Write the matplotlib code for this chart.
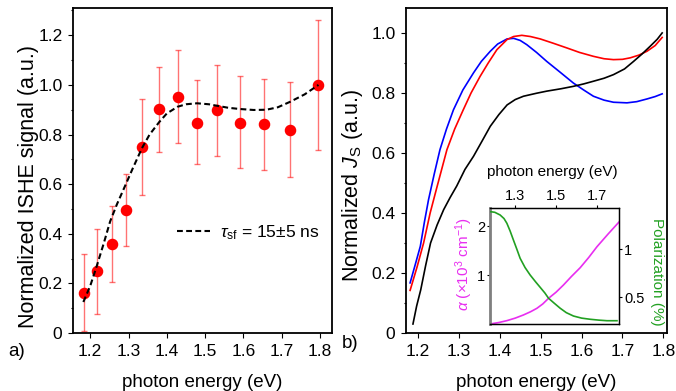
import matplotlib
matplotlib.use('Agg')
import matplotlib.pyplot as plt
from matplotlib.ticker import MultipleLocator

plt.rcParams['font.family'] = ['Liberation Sans', 'DejaVu Sans']
plt.rcParams['mathtext.fontset'] = 'custom'
plt.rcParams['mathtext.rm'] = 'Liberation Sans'
plt.rcParams['mathtext.it'] = 'Liberation Sans:italic'

# panel a: ISHE signal vs photon energy
ishe_e = [1.184, 1.217, 1.257, 1.293, 1.335, 1.379, 1.428, 1.479, 1.531, 1.590, 1.654, 1.722, 1.796]
ishe_v = [0.163, 0.25, 0.358, 0.496, 0.75, 0.903, 0.953, 0.848, 0.9, 0.848, 0.842, 0.82, 1.0]
ishe_lo = [0.008, 0.077, 0.204, 0.35, 0.557, 0.73, 0.765, 0.68, 0.715, 0.665, 0.657, 0.63, 0.737]
ishe_hi = [0.32, 0.42, 0.512, 0.641, 0.944, 1.074, 1.141, 1.02, 1.08, 1.034, 1.025, 1.01, 1.262]

fit_e = [1.182, 1.20, 1.217, 1.235, 1.252, 1.27, 1.293, 1.31, 1.335, 1.355, 1.38, 1.40, 1.428,
         1.45, 1.479, 1.51, 1.531, 1.56, 1.59, 1.627, 1.66, 1.69, 1.722, 1.76, 1.796]
fit_v = [0.125, 0.19, 0.27, 0.36, 0.45, 0.52, 0.60, 0.66, 0.745, 0.80, 0.85, 0.885, 0.912,
         0.922, 0.926, 0.922, 0.916, 0.908, 0.903, 0.899, 0.900, 0.910, 0.932, 0.962, 1.0]

# panel b: normalized spin current
blue_e = [1.181, 1.194, 1.206, 1.216, 1.226, 1.240, 1.254, 1.270, 1.287, 1.31, 1.336, 1.355, 1.377,
          1.395, 1.418, 1.434, 1.45, 1.466, 1.49, 1.515, 1.545, 1.580, 1.605, 1.629, 1.655, 1.678,
          1.711, 1.735, 1.760, 1.78, 1.797]
blue_v = [0.167, 0.23, 0.289, 0.37, 0.444, 0.53, 0.611, 0.68, 0.744, 0.81, 0.867, 0.905, 0.939,
          0.963, 0.98, 0.982, 0.975, 0.961, 0.935, 0.905, 0.872, 0.833, 0.81, 0.789, 0.776, 0.769,
          0.767, 0.771, 0.780, 0.788, 0.797]
red_e = [1.181, 1.198, 1.214, 1.230, 1.245, 1.271, 1.29, 1.311, 1.33, 1.352, 1.372, 1.393, 1.418,
         1.434, 1.454, 1.475, 1.499, 1.53, 1.564, 1.595, 1.629, 1.655, 1.678, 1.700, 1.719, 1.740,
         1.760, 1.780, 1.797]
red_v = [0.142, 0.22, 0.30, 0.40, 0.478, 0.611, 0.68, 0.744, 0.80, 0.855, 0.90, 0.944, 0.978,
         0.988, 0.992, 0.988, 0.98, 0.966, 0.95, 0.935, 0.922, 0.914, 0.911, 0.912, 0.917, 0.926,
         0.939, 0.958, 0.985]
black_e = [1.188, 1.197, 1.207, 1.219, 1.231, 1.247, 1.263, 1.279, 1.295, 1.315, 1.336, 1.357,
           1.377, 1.398, 1.418, 1.438, 1.458, 1.49, 1.515, 1.55, 1.580, 1.605, 1.629, 1.655, 1.678,
           1.705, 1.727, 1.748, 1.768, 1.785, 1.797]
black_v = [0.03, 0.09, 0.144, 0.225, 0.30, 0.36, 0.411, 0.452, 0.49, 0.545, 0.589, 0.64, 0.689,
           0.728, 0.76, 0.778, 0.789, 0.799, 0.806, 0.814, 0.822, 0.83, 0.839, 0.849, 0.861, 0.88,
           0.905, 0.93, 0.956, 0.979, 1.0]

# inset: absorption and polarization
abs_e = [1.177, 1.22, 1.259, 1.30, 1.340, 1.375, 1.406, 1.435, 1.463, 1.50, 1.536, 1.575, 1.618,
         1.66, 1.700, 1.755, 1.809]
abs_v = [0.0, 0.03, 0.068, 0.12, 0.184, 0.25, 0.32, 0.41, 0.524, 0.65, 0.796, 0.97, 1.15, 1.36,
         1.578, 1.84, 2.088]
pol_e = [1.177, 1.20, 1.226, 1.245, 1.259, 1.275, 1.291, 1.308, 1.324, 1.348, 1.373, 1.40, 1.422,
         1.445, 1.463, 1.49, 1.520, 1.55, 1.585, 1.625, 1.667, 1.71, 1.749, 1.798]
pol_v = [1.392, 1.385, 1.357, 1.32, 1.271, 1.19, 1.097, 1.0, 0.906, 0.81, 0.732, 0.66, 0.604,
         0.545, 0.49, 0.44, 0.386, 0.34, 0.305, 0.283, 0.271, 0.262, 0.256, 0.256]

TICK_FS = 12.5
XLABEL_FS = 13.5
YLABEL_FS = 15.5


def style_ticks(ax):
    ax.tick_params(which='major', direction='out', length=3.6, width=0.8, labelsize=TICK_FS, pad=4)
    ax.tick_params(which='minor', direction='out', length=1.8, width=0.8)
    for s in ax.spines.values():
        s.set_visible(True)
        s.set_color('black')
        s.set_linewidth(1.3)
        s.set_zorder(5)


def place_labels(ax, xl, yl, ypos):
    ax.set_xlabel(xl, fontsize=XLABEL_FS, va='center')
    ax.xaxis.set_label_coords(0.5, -0.151)
    ax.set_ylabel(yl, fontsize=YLABEL_FS, va='center')
    ax.yaxis.set_label_coords(*ypos)


fig = plt.figure(figsize=(6.76, 3.91), dpi=100)

# ---- panel a
ax1 = fig.add_axes([0.108, 0.1483, 0.3835, 0.8312])
yerr = [[v - lo for v, lo in zip(ishe_v, ishe_lo)], [hi - v for v, hi in zip(ishe_v, ishe_hi)]]
ax1.errorbar(ishe_e, ishe_v, yerr=yerr, fmt='none', ecolor=(1, 0, 0, 0.55), elinewidth=1.0,
             capsize=2.3, capthick=1.0, zorder=2)
ax1.plot(ishe_e, ishe_v, 'o', color='#ff0000', markersize=7.3, zorder=3)
ax1.plot(fit_e, fit_v, color='black', lw=1.5, ls=(0, (2.8, 1.6)), zorder=4,
         label=r'$\tau_{\rm sf}$ = 15±5 ns')
ax1.set_xlim(1.155, 1.832)
ax1.set_ylim(0, 1.31)
ax1.xaxis.set_major_locator(MultipleLocator(0.1))
ax1.set_yticks([0, 0.2, 0.4, 0.6, 0.8, 1.0, 1.2])
ax1.set_yticklabels(['0', '0.2', '0.4', '0.6', '0.8', '1.0', '1.2'])
ax1.yaxis.set_minor_locator(MultipleLocator(0.1))
style_ticks(ax1)
place_labels(ax1, 'photon energy (eV)', 'Normalized ISHE signal (a.u.)', (-0.17, 0.45))
ax1.legend(loc='center left', bbox_to_anchor=(0.40, 0.308), frameon=False, fontsize=TICK_FS,
           handlelength=1.9, handletextpad=0.6, borderpad=0, borderaxespad=0)
fig.text(0.012, 0.10, 'a)', fontsize=XLABEL_FS, va='center')

# ---- panel b
ax2 = fig.add_axes([0.6006, 0.1483, 0.3856, 0.8312])
ax2.plot(blue_e, blue_v, color='#0000ff', lw=1.2)
ax2.plot(red_e, red_v, color='#ff0000', lw=1.2)
ax2.plot(black_e, black_v, color='black', lw=1.2)
ax2.set_xlim(1.171, 1.808)
ax2.set_ylim(0, 1.083)
ax2.xaxis.set_major_locator(MultipleLocator(0.1))
ax2.set_yticks([0, 0.2, 0.4, 0.6, 0.8, 1.0])
ax2.set_yticklabels(['0', '0.2', '0.4', '0.6', '0.8', '1.0'])
ax2.yaxis.set_minor_locator(MultipleLocator(0.1))
style_ticks(ax2)
place_labels(ax2, 'photon energy (eV)', r'Normalized $J_{\rm S}$ (a.u.)', (-0.207, 0.454))
fig.text(0.505, 0.122, 'b)', fontsize=XLABEL_FS, va='center')

# ---- inset
MAG = '#e82ef0'
GRN = '#22a022'
ax3 = fig.add_axes([0.725, 0.1714, 0.191, 0.2967])
ax3.plot(abs_e, abs_v, color=MAG, lw=1.2)
ax3.set_xlim(1.177, 1.809)
ax3.set_ylim(0, 2.37)
ax3.set_xticks([1.3, 1.5, 1.7])
ax3.set_yticks([1, 2])
ax3.xaxis.tick_top()
ax3.xaxis.set_label_position('top')
ax3.tick_params(direction='out', length=2.0, width=0.8, labelsize=10.5, pad=1.5)
ax3.set_xlabel('photon energy (eV)', fontsize=11, va='center')
ax3.xaxis.set_label_coords(0.48, 1.31)
ax3.set_ylabel(r'$\alpha$ (×10$^3$ cm$^{-1}$)', fontsize=11, color=MAG, va='center')
ax3.yaxis.set_label_coords(-0.2, 0.513)
ax3.spines['left'].set_color('#7f7f7f')
ax3.spines['left'].set_linewidth(2)
ax4 = ax3.twinx()
ax4.plot(pol_e, pol_v, color=GRN, lw=1.2)
ax4.set_ylim(0.222, 1.43)
ax4.set_yticks([0.5, 1])
ax4.set_yticklabels(['0.5', '1'])
ax4.tick_params(direction='out', length=2.0, width=0.8, labelsize=10.5, pad=1.5)
ax4.set_ylabel('Polarization (%)', fontsize=11, color=GRN, rotation=270, va='center')
ax4.yaxis.set_label_coords(1.295, 0.448)
ax4.spines['left'].set_visible(False)
for a in (ax3, ax4):
    for k in ('top', 'right', 'bottom'):
        a.spines[k].set_linewidth(0.9)

fig.savefig('out.png', dpi=100)
